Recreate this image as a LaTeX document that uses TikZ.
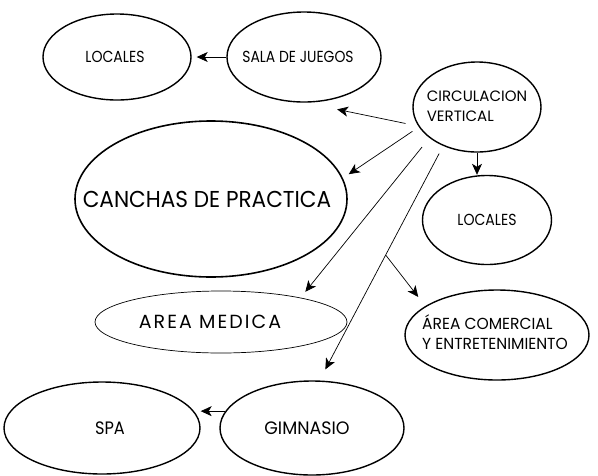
\documentclass[tikz,border=0pt]{standalone}
\usepackage{fontspec}
\setmainfont{Poppins}
\usepackage{graphicx}
\usetikzlibrary{shapes.geometric,arrows.meta,calc}
% #1 horizontal scale, #2 size, #3 text, #4 horizontal offset
\newcommand\tx[4]{\makebox[0pt]{\hspace*{#4}\hspace*{#4}\scalebox{#1}[1]{\fontsize{#2}{20}\selectfont #3}}}
\begin{document}
\begin{tikzpicture}[x=1pt,y=-1pt,
  ell/.style={ellipse,draw,line width=1.4pt,inner sep=0pt},
  thinell/.style={ellipse,draw,line width=0.7pt,inner sep=0pt},
  conn/.style={line width=0.7pt,-{Stealth[length=11pt,width=10pt,inset=3pt]}}]
\fill[white] (0,0) rectangle (598,475);
\useasboundingbox (0,0) rectangle (598,475);

\node[ell,minimum width=148pt,minimum height=86pt] (locA) at (117,57) {\tx{0.88}{16}{LOCALES}{-2pt}};
\node[ell,minimum width=154pt,minimum height=90pt] (sala) at (304,57) {\tx{0.87}{16}{SALA DE JUEGOS}{-6pt}};
\node[ell,minimum width=128pt,minimum height=90pt] (circ) at (477,107)
  {\tx{1}{15}{\begin{tabular}{@{}l@{}}CIRCULACION\\VERTICAL\end{tabular}}{0pt}};
\node[ell,minimum width=129pt,minimum height=89pt] (locB) at (487,220) {\tx{0.88}{16}{LOCALES}{0pt}};
\node[ell,line width=1.6pt,minimum width=272pt,minimum height=156pt] (canchas) at (211,199) {\tx{0.94}{23}{CANCHAS DE PRACTICA}{-4pt}};
\node[thinell,minimum width=252pt,minimum height=62pt] (medica) at (221,322) {\tx{1}{19}{\addfontfeatures{LetterSpace=11}AREA MEDICA}{-11pt}};
\node[ell,minimum width=184pt,minimum height=90pt] (comercial) at (497,335)
  {\tx{0.97}{16}{\begin{tabular}{@{}l@{}}ÁREA COMERCIAL\\Y ENTRETENIMIENTO\end{tabular}}{-2pt}};
\node[ell,minimum width=184pt,minimum height=94pt] (gim) at (312,428) {\tx{0.97}{18}{GIMNASIO}{-5pt}};
\node[ell,minimum width=196pt,minimum height=92pt] (spa) at (102,428) {\tx{0.9}{18}{SPA}{8pt}};

\draw[conn,shorten >=5pt] (sala.west) -- (sala.west -| locA.east);
\draw[conn] (circ.south) -- (circ.south |- locB.north);
\draw[conn,shorten <=13pt,shorten >=33pt] (circ.198) -- (sala.271);
\draw[conn,shorten <=7.7pt,shorten >=7pt] (circ.199) -- (canchas.9.75);
\draw[conn,shorten <=11.7pt,shorten >=7.5pt] (circ.213.5) -- (medica.17);
\draw[conn,shorten <=8.5pt,shorten >=12.5pt] (circ.229.4) -- (gim.81.3);
\coordinate (br) at ($(circ.229.4)!0.465!(gim.81.3)$);
\draw[conn,shorten >=11.5pt] (br) -- (comercial.158.9);
\draw[conn] (gim.169.5) -- (gim.169.5 -| spa.east);
\end{tikzpicture}
\end{document}
